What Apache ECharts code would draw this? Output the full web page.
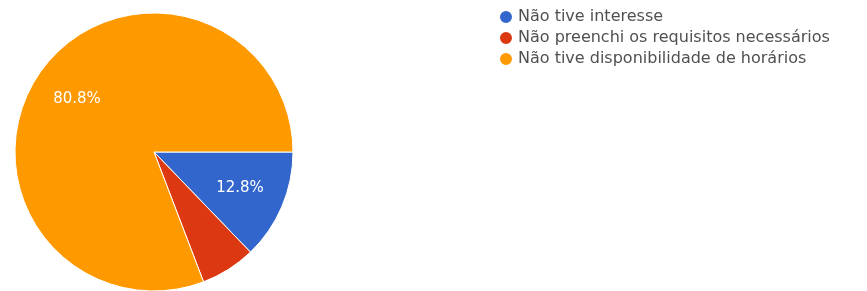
<!DOCTYPE html>
<html>
<head>
<meta charset="utf-8">
<script src="https://cdn.jsdelivr.net/npm/echarts@6/dist/echarts.min.js"></script>
<style>
  html, body { margin: 0; padding: 0; background: #fff; }
  #chart { width: 867px; height: 291px; }
</style>
</head>
<body>
<div id="chart"></div>
<script>
// respostas (contagens)
const categories = ['Não tive interesse', 'Não preenchi os requisitos necessários', 'Não tive disponibilidade de horários']
const counts = [16, 8, 101]
const colors = ['#3366cc', '#dc3912', '#ff9900']

const pieData = categories.map((name, i) => ({ name: name, value: counts[i] }))

let myEcharts = echarts.init(document.getElementById('chart'))
let option = {
  animation: false,
  textStyle: { fontFamily: 'DejaVu Sans, Verdana, sans-serif' },
  color: colors,
  legend: {
    orient: 'vertical',
    left: 498,
    top: 9,
    padding: 0,
    itemGap: 5,
    itemWidth: 14,
    itemHeight: 14,
    icon: 'circle',
    data: categories,
    textStyle: { fontSize: 16, color: '#505050' }
  },
  series: [
    {
      name: 'respostas',
      type: 'pie',
      center: [154, 152],
      radius: 139,
      startAngle: 0,
      clockwise: true,
      label: { show: false },
      labelLine: { show: false },
      itemStyle: { borderColor: '#fff', borderWidth: 1 },
      emphasis: { disabled: true },
      data: pieData
    },
    {
      // camada só para posicionar os rótulos de percentual
      name: 'rotulos',
      type: 'pie',
      center: [154, 152],
      radius: [42, 139],
      startAngle: 0,
      clockwise: true,
      silent: true,
      itemStyle: { color: 'transparent' },
      label: {
        show: true,
        position: 'inside',
        color: '#fff',
        fontSize: 15,
        formatter: function (p) {
          return p.percent < 10 ? '' : p.percent.toFixed(1) + '%'
        }
      },
      labelLine: { show: false },
      emphasis: { disabled: true },
      data: pieData
    }
  ]
}
myEcharts.setOption(option)
</script>
</body>
</html>
